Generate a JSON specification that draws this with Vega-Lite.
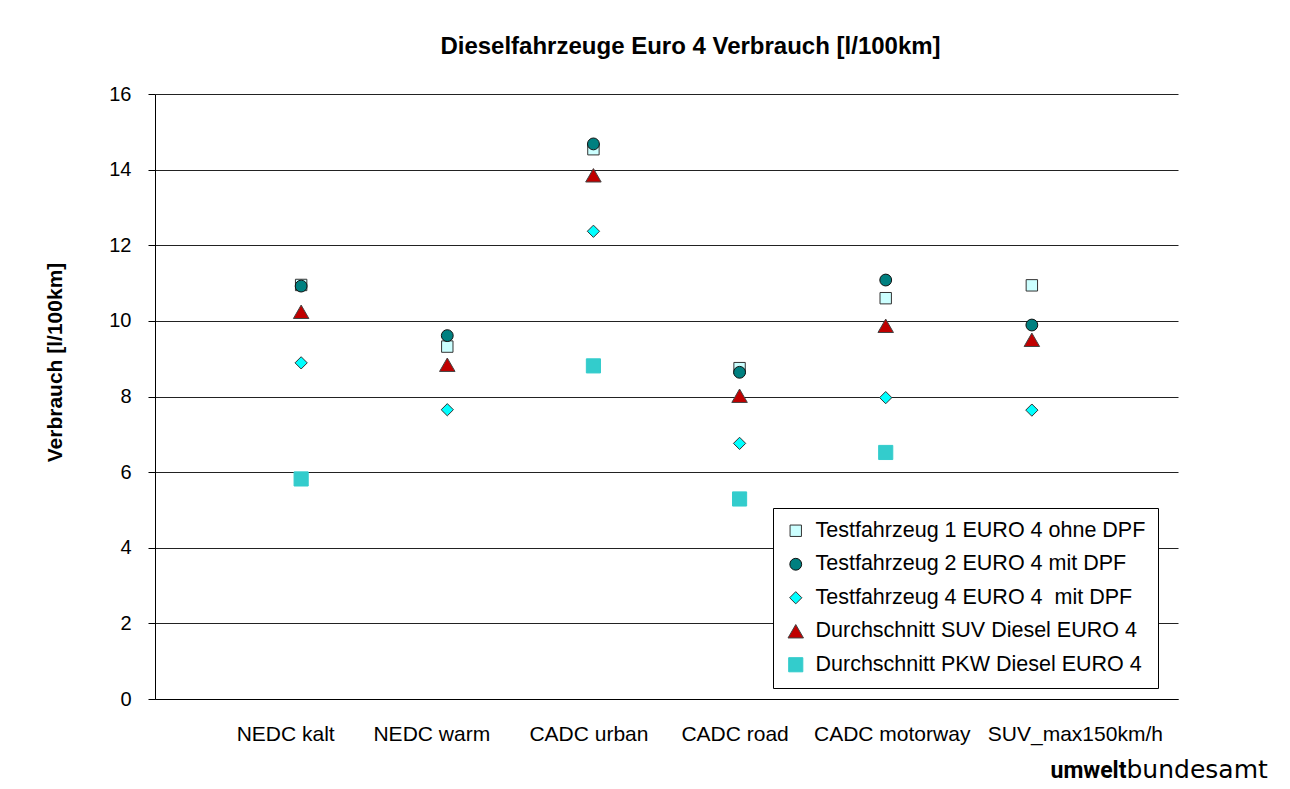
{
  "$schema": "https://vega.github.io/schema/vega-lite/v6.json",
  "autosize": "none",
  "width": 1023,
  "height": 605,
  "padding": {"left": 155, "top": 94, "right": 112, "bottom": 90},
  "background": "white",
  "config": {
    "font": "Liberation Sans",
    "view": {"stroke": null},
    "legend": {
      "title": null,
      "orient": "none",
      "legendX": 618,
      "legendY": 414,
      "strokeColor": "black",
      "fillColor": "white",
      "padding": 12,
      "labelFontSize": 21.5,
      "labelColor": "black",
      "labelLimit": 500,
      "labelOffset": 9,
      "rowPadding": 10.5,
      "symbolStrokeWidth": 1,
      "symbolOpacity": 1
    }
  },
  "title": {
    "text": "Dieselfahrzeuge Euro 4 Verbrauch [l/100km]",
    "fontSize": 24,
    "fontWeight": "bold",
    "font": "Liberation Sans",
    "color": "black",
    "anchor": "middle",
    "dx": 24,
    "offset": 25
  },
  "data": {
    "values": [
      {"cycle": "NEDC kalt", "series": "Testfahrzeug 1 EURO 4 ohne DPF", "value": 10.95},
      {"cycle": "NEDC kalt", "series": "Testfahrzeug 2 EURO 4 mit DPF", "value": 10.92},
      {"cycle": "NEDC kalt", "series": "Testfahrzeug 4 EURO 4\u00a0 mit DPF", "value": 8.89},
      {"cycle": "NEDC kalt", "series": "Durchschnitt SUV Diesel EURO 4", "value": 10.24},
      {"cycle": "NEDC kalt", "series": "Durchschnitt PKW Diesel EURO 4", "value": 5.82},
      {"cycle": "NEDC warm", "series": "Testfahrzeug 1 EURO 4 ohne DPF", "value": 9.32},
      {"cycle": "NEDC warm", "series": "Testfahrzeug 2 EURO 4 mit DPF", "value": 9.61},
      {"cycle": "NEDC warm", "series": "Testfahrzeug 4 EURO 4\u00a0 mit DPF", "value": 7.65},
      {"cycle": "NEDC warm", "series": "Durchschnitt SUV Diesel EURO 4", "value": 8.84},
      {"cycle": "CADC urban", "series": "Testfahrzeug 1 EURO 4 ohne DPF", "value": 14.54},
      {"cycle": "CADC urban", "series": "Testfahrzeug 2 EURO 4 mit DPF", "value": 14.68},
      {"cycle": "CADC urban", "series": "Testfahrzeug 4 EURO 4\u00a0 mit DPF", "value": 12.37},
      {"cycle": "CADC urban", "series": "Durchschnitt SUV Diesel EURO 4", "value": 13.85},
      {"cycle": "CADC urban", "series": "Durchschnitt PKW Diesel EURO 4", "value": 8.81},
      {"cycle": "CADC road", "series": "Testfahrzeug 1 EURO 4 ohne DPF", "value": 8.75},
      {"cycle": "CADC road", "series": "Testfahrzeug 2 EURO 4 mit DPF", "value": 8.64},
      {"cycle": "CADC road", "series": "Testfahrzeug 4 EURO 4\u00a0 mit DPF", "value": 6.76},
      {"cycle": "CADC road", "series": "Durchschnitt SUV Diesel EURO 4", "value": 8.02},
      {"cycle": "CADC road", "series": "Durchschnitt PKW Diesel EURO 4", "value": 5.29},
      {"cycle": "CADC motorway", "series": "Testfahrzeug 1 EURO 4 ohne DPF", "value": 10.6},
      {"cycle": "CADC motorway", "series": "Testfahrzeug 2 EURO 4 mit DPF", "value": 11.08},
      {"cycle": "CADC motorway", "series": "Testfahrzeug 4 EURO 4\u00a0 mit DPF", "value": 7.97},
      {"cycle": "CADC motorway", "series": "Durchschnitt SUV Diesel EURO 4", "value": 9.87},
      {"cycle": "CADC motorway", "series": "Durchschnitt PKW Diesel EURO 4", "value": 6.52},
      {"cycle": "SUV_max150km/h", "series": "Testfahrzeug 1 EURO 4 ohne DPF", "value": 10.94},
      {"cycle": "SUV_max150km/h", "series": "Testfahrzeug 2 EURO 4 mit DPF", "value": 9.89},
      {"cycle": "SUV_max150km/h", "series": "Testfahrzeug 4 EURO 4\u00a0 mit DPF", "value": 7.64},
      {"cycle": "SUV_max150km/h", "series": "Durchschnitt SUV Diesel EURO 4", "value": 9.5}
    ]
  },
  "resolve": {"axis": {"x": "independent"}},
  "layer": [
    {
      "mark": {"type": "point", "filled": true, "opacity": 1, "strokeWidth": 1, "strokeOpacity": 1},
      "encoding": {
        "x": {
          "field": "cycle",
          "type": "nominal",
          "sort": ["NEDC kalt", "NEDC warm", "CADC urban", "CADC road", "CADC motorway", "SUV_max150km/h"],
          "scale": {"type": "point", "padding": 1},
          "axis": {
            "orient": "bottom",
            "labelAngle": 0,
            "labelFontSize": 21,
            "labelColor": "black",
            "labelPadding": 24,
            "labelOffset": {
              "condition": [
                {"test": "datum.value == 'SUV_max150km/h'", "value": 43},
                {"test": "datum.value == 'CADC motorway'", "value": 6},
                {"test": "datum.value == 'CADC urban' || datum.value == 'CADC road'", "value": -5}
              ],
              "value": -16
            },
            "ticks": false,
            "domain": true,
            "domainColor": "black",
            "domainWidth": 1,
            "grid": false,
            "title": "umwelt",
            "titleFontSize": 23,
            "titleFont": "Roboto",
            "titleFontWeight": "bold",
            "titleColor": "black",
            "titleAlign": "right",
            "titleAnchor": "end",
            "titleX": 971,
            "titleY": 78,
            "titleBaseline": "alphabetic"
          }
        },
        "y": {
          "field": "value",
          "type": "quantitative",
          "scale": {"domain": [0, 16], "nice": false},
          "axis": {
            "values": [0, 2, 4, 6, 8, 10, 12, 14, 16],
            "grid": true,
            "gridColor": "#222222",
            "gridWidth": 1,
            "gridOpacity": 1,
            "domain": true,
            "domainColor": "black",
            "tickColor": "black",
            "tickSize": 7,
            "labelPadding": 17,
            "labelFontSize": 20,
            "labelColor": "black",
            "title": "Verbrauch [l/100km]",
            "titleFontSize": 21,
            "titleFontWeight": "bold",
            "titleColor": "black",
            "titleX": -100,
            "titleY": 268,
            "titleAlign": "center",
            "titleBaseline": "middle",
            "titleAngle": -90
          }
        },
        "shape": {
          "field": "series",
          "type": "nominal",
          "scale": {
            "domain": ["Testfahrzeug 1 EURO 4 ohne DPF", "Testfahrzeug 2 EURO 4 mit DPF", "Testfahrzeug 4 EURO 4\u00a0 mit DPF", "Durchschnitt SUV Diesel EURO 4", "Durchschnitt PKW Diesel EURO 4"],
            "range": ["square", "circle", "diamond", "triangle-up", "square"]
          }
        },
        "fill": {
          "field": "series",
          "type": "nominal",
          "scale": {
            "domain": ["Testfahrzeug 1 EURO 4 ohne DPF", "Testfahrzeug 2 EURO 4 mit DPF", "Testfahrzeug 4 EURO 4\u00a0 mit DPF", "Durchschnitt SUV Diesel EURO 4", "Durchschnitt PKW Diesel EURO 4"],
            "range": ["#CCFFFF", "#008080", "#00FFFF", "#C00000", "#33CCCC"]
          }
        },
        "stroke": {
          "field": "series",
          "type": "nominal",
          "scale": {
            "domain": ["Testfahrzeug 1 EURO 4 ohne DPF", "Testfahrzeug 2 EURO 4 mit DPF", "Testfahrzeug 4 EURO 4\u00a0 mit DPF", "Durchschnitt SUV Diesel EURO 4", "Durchschnitt PKW Diesel EURO 4"],
            "range": ["#333333", "#111111", "#333333", "#444444", "#33CCCC"]
          }
        },
        "size": {
          "field": "series",
          "type": "nominal",
          "scale": {
            "type": "ordinal",
            "domain": ["Testfahrzeug 1 EURO 4 ohne DPF", "Testfahrzeug 2 EURO 4 mit DPF", "Testfahrzeug 4 EURO 4\u00a0 mit DPF", "Durchschnitt SUV Diesel EURO 4", "Durchschnitt PKW Diesel EURO 4"],
            "range": [130, 140, 150, 240, 200]
          }
        }
      }
    },
    {
      "mark": {"type": "point", "opacity": 0},
      "encoding": {
        "x": {
          "field": "cycle",
          "type": "nominal",
          "sort": ["NEDC kalt", "NEDC warm", "CADC urban", "CADC road", "CADC motorway", "SUV_max150km/h"],
          "scale": {"type": "point", "padding": 1},
          "axis": {
            "orient": "bottom",
            "labels": false,
            "ticks": false,
            "domain": false,
            "grid": false,
            "title": "bundesamt",
            "titleFontSize": 25,
            "titleFont": "DejaVu Sans",
            "titleFontWeight": "normal",
            "titleColor": "black",
            "titleAlign": "left",
            "titleAnchor": "start",
            "titleX": 971,
            "titleY": 78,
            "titleBaseline": "alphabetic"
          }
        },
        "y": {"field": "value", "type": "quantitative"}
      }
    }
  ]
}
